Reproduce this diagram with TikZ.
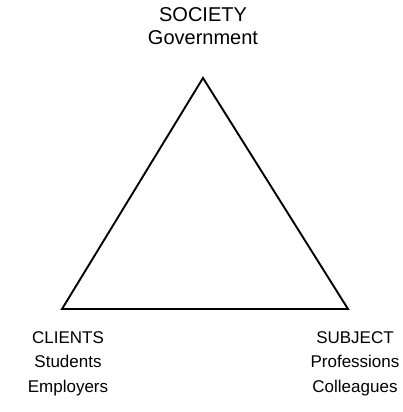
\documentclass[tikz,border=0pt]{standalone}
\usepackage{fontspec}
\setmainfont{Liberation Sans}
\usetikzlibrary{positioning}
\tikzset{
  side/.style={draw=black,line width=1.9bp,line join=miter},
  corner/.style={align=center,inner sep=0pt,font=\fontsize{17bp}{24.5bp}\selectfont},
  apex/.style={corner,font=\fontsize{20bp}{23.5bp}\selectfont}
}

\begin{document}
\begin{tikzpicture}[x=1bp,y=-1bp]
  \useasboundingbox (0,0) rectangle (403,412);
  \coordinate (society) at (203,78);
  \coordinate (clients) at (62,309);
  \coordinate (subject) at (348,309);
  \draw[side] (society)--(clients)--(subject)--cycle;
  \node[apex,above=33bp of society] (top) {SOCIETY\\Government};
  \node[corner,below=22bp of clients,xshift=6bp] (left) {CLIENTS\\Students\\Employers};
  \node[corner,below=22bp of subject,xshift=7bp] (right) {SUBJECT\\Professions\\Colleagues};
\end{tikzpicture}
\end{document}
